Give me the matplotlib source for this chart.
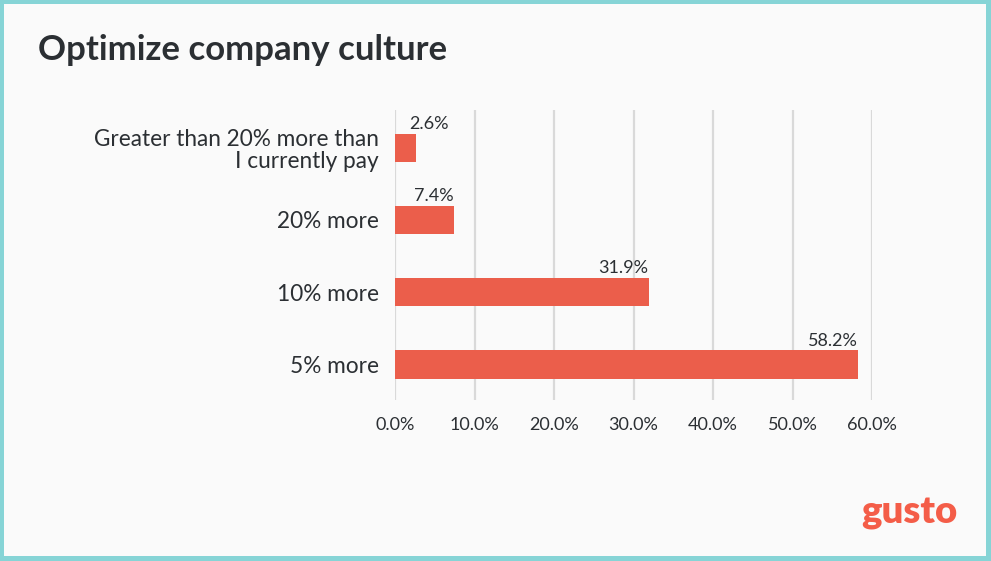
import matplotlib
matplotlib.use("Agg")
import matplotlib.pyplot as plt
from matplotlib.patches import Rectangle

categories = ["Greater than 20% more than\nI currently pay", "20% more", "10% more", "5% more"]
values = [2.6, 7.4, 31.9, 58.2]
xticks = [0, 10, 20, 30, 40, 50, 60]
xtick_labels = ["0.0%", "10.0%", "20.0%", "30.0%", "40.0%", "50.0%", "60.0%"]
title = "Optimize company culture"
logo = "gusto"

W, H = 991, 561
plt.rcParams['font.family'] = ['Lato', 'DejaVu Sans']
TXT = "#2b2f33"
BAR = "#eb5e4b"
fig = plt.figure(figsize=(W / 100, H / 100), dpi=100)
fig.patch.set_facecolor("#86d4d6")
fig.patches.append(Rectangle((4 / W, 5 / H), (W - 9) / W, (H - 9) / H,
                             transform=fig.transFigure, facecolor="#fafafa",
                             edgecolor="none", zorder=-10))

left, right = 395 / W, 872 / W
bottom, top = (H - 400) / H, (H - 110) / H
ax = fig.add_axes([left, bottom, right - left, top - bottom])
ax.set_facecolor("none")

ypos = list(range(len(categories)))
ax.barh(ypos, values, height=0.39, color=BAR, zorder=3)
ax.set_xlim(0, 60)
ax.set_ylim(3.49, -0.52)
ax.set_xticks(xticks)
ax.set_xticklabels(xtick_labels, fontsize=13, color=TXT)
ax.set_yticks(ypos)
ax.set_yticklabels(categories, fontsize=16.3, color=TXT, ha="right", linespacing=1.1)
ax.tick_params(axis="both", length=0)
ax.tick_params(axis="y", pad=11.5)
ax.tick_params(axis="x", pad=12)
for s in ax.spines.values():
    s.set_visible(False)
for x in xticks:
    ax.axvline(x, color="#d9d9d9", lw=1.6, zorder=1)

for y, v in zip(ypos, values):
    ax.text(max(v, 6.8), y - 0.22, f"{v:.1f}%", ha="right", va="bottom",
            fontsize=13, color=TXT, zorder=4)

fig.text(38 / W, 1 - 50 / H, title, fontsize=25, fontweight="bold",
         color=TXT, ha="left", va="center")
fig.text(957 / W, 1 - 513 / H, logo, fontsize=27.5, fontweight="heavy",
         color="#f45d48", ha="right", va="center")

fig.savefig("out.png", dpi=100, facecolor=fig.get_facecolor())
